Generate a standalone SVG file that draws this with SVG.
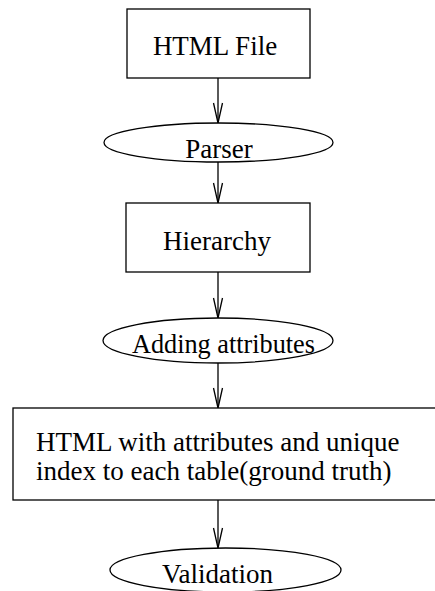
<svg xmlns="http://www.w3.org/2000/svg" width="435" height="591" viewBox="0 0 435 591">
<style>
.shape{fill:#fff;stroke:#000;stroke-width:1.3}
.lbl{font-family:"Liberation Serif","Times New Roman",serif;font-size:27px;fill:#000}
.c{text-anchor:middle}
.conn{stroke:#000;stroke-width:1.3;fill:none;marker-end:url(#v)}
</style>
<defs>
<marker id="v" markerUnits="userSpaceOnUse" markerWidth="24" markerHeight="12" viewBox="-22 -6 24 12" refX="0" refY="0" orient="auto">
<path d="M-20,-4.5 L0,0 L-20,4.5" fill="none" stroke="#000" stroke-width="1.3"/>
</marker>
</defs>
<rect width="435" height="591" fill="#fff"/>
<g id="connectors">
<line class="conn" x1="218" y1="78" x2="218" y2="123"/>
<line class="conn" x1="218" y1="162" x2="218" y2="203"/>
<line class="conn" x1="218" y1="272" x2="218" y2="318"/>
<line class="conn" x1="218" y1="363" x2="218" y2="408"/>
<line class="conn" x1="218" y1="500" x2="218" y2="548"/>
</g>
<g id="html-file">
<rect class="shape" x="127" y="9" width="183" height="69"/>
<text class="lbl c" x="215" y="55">HTML File</text>
</g>
<g id="parser">
<ellipse class="shape" cx="218.5" cy="142.5" rx="114.5" ry="19.5"/>
<text class="lbl c" x="219" y="158">Parser</text>
</g>
<g id="hierarchy">
<rect class="shape" x="126" y="203" width="184" height="69"/>
<text class="lbl c" x="217" y="250">Hierarchy</text>
</g>
<g id="adding-attributes">
<ellipse class="shape" cx="218" cy="340.5" rx="115" ry="22.5"/>
<text class="lbl" x="132" y="353" textLength="183" lengthAdjust="spacingAndGlyphs">Adding attributes</text>
</g>
<g id="html-attributes">
<rect class="shape" x="13" y="408" width="440" height="92"/>
<text class="lbl" x="36" y="451">HTML with attributes and unique</text>
<text class="lbl" x="36" y="480">index to each table(ground truth)</text>
</g>
<g id="validation">
<ellipse class="shape" cx="225.5" cy="570" rx="115.5" ry="22"/>
<text class="lbl c" x="217.5" y="583">Validation</text>
</g>
</svg>
